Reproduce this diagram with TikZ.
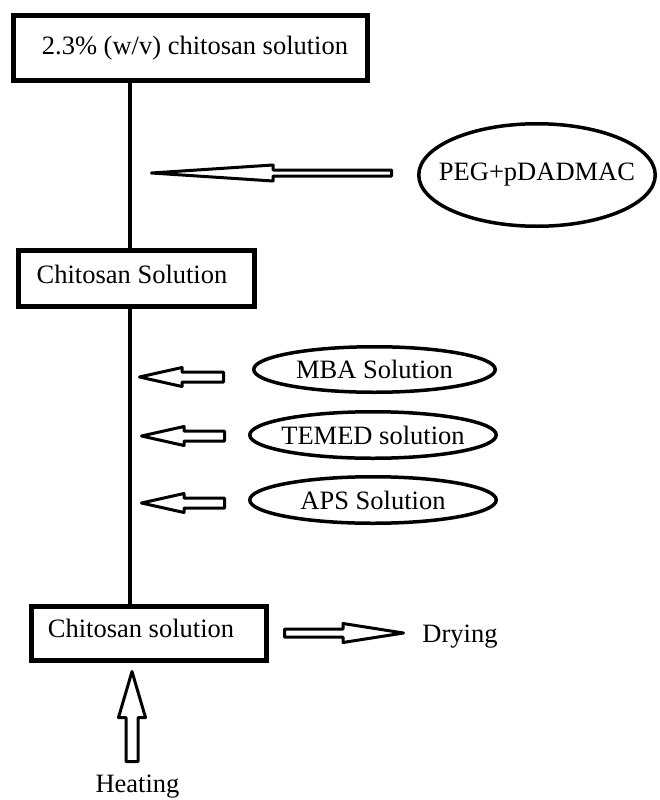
\documentclass[tikz,border=0pt]{standalone}
\usepackage{fontspec}
\setmainfont{Liberation Serif}
\usetikzlibrary{shapes.geometric,calc}
\tikzset{
  box/.style={draw, line width=5pt, inner sep=0pt},
  lbl/.style={anchor=base, inner sep=0pt, font=\fontsize{26.5}{30}\selectfont},
  oval/.style={draw, ellipse, line width=3.5pt, inner sep=0pt, font=\fontsize{26.5}{30}\selectfont},
  harrow/.style={draw, line width=3pt, fill=white, line join=round},
  vline/.style={line width=4.5pt}
}
\newcommand\hollowH[5]{\draw[harrow] ($(#2)+(0,#4)$) -- ($(#1)+(#3,#4)$) -- ($(#1)+(#3,#5)$) -- (#1) -- ($(#1)+(#3,-#5)$) -- ($(#1)+(#3,-#4)$) -- ($(#2)+(0,-#4)$) -- cycle;}
\newcommand\hollowV[5]{\draw[harrow] ($(#2)+(#4,0)$) -- ($(#1)+(#4,#3)$) -- ($(#1)+(#5,#3)$) -- (#1) -- ($(#1)+(-#5,#3)$) -- ($(#1)+(-#4,#3)$) -- ($(#2)+(-#4,0)$) -- cycle;}
\begin{document}
\begin{tikzpicture}[x=1pt,y=-1pt]
\useasboundingbox[fill=white] (0,0) rectangle (659,800);
% boxes
\node[box, minimum width=354pt, minimum height=65pt] (top) at (190.5,48) {};
\node[lbl] (toptxt) at (195,55) {2.3\% (w/v) chitosan solution};
\node[box, minimum width=236pt, minimum height=56pt] (mid) at (136.5,278.5) {};
\node[lbl] (midtxt) at (132,283) {Chitosan Solution};
\node[box, minimum width=235pt, minimum height=54pt] (bot) at (149,633.5) {};
\node[lbl] (bottxt) at (141,637) {Chitosan solution};
% ellipses
\node[oval, minimum width=236.5pt, minimum height=102.5pt] (peg) at (537,175) {\makebox[0pt]{PEG+pDADMAC}};
\node[oval, minimum width=241.5pt, minimum height=45.5pt] (mba) at (374.5,369.5) {\makebox[0pt]{MBA Solution}};
\node[oval, minimum width=246.5pt, minimum height=46.5pt] (temed) at (373,435) {\makebox[0pt]{TEMED solution}};
\node[oval, minimum width=246.5pt, minimum height=46.5pt] (aps) at (373,500) {\makebox[0pt]{APS Solution}};
% plain labels
\node[lbl] (dry) at (460,642) {Drying};
\node[lbl] (heat) at (137.5,792.5) {Heating};
% main vertical line
\coordinate (vx) at (130,0);
\draw[vline] (top.south -| vx) -- (mid.north -| vx);
\draw[vline] (mid.south -| vx) -- (bot.north -| vx);
% arrow end points
\coordinate (pegtip) at (151.5,173);
\coordinate (pegtail) at (391.5,173);
\coordinate (mbatip) at (139.5,377);
\coordinate (mbatail) at (223.5,377);
\coordinate (temedtip) at (141.5,436);
\coordinate (temedtail) at (224.5,436);
\coordinate (apstip) at (141.5,503);
\coordinate (apstail) at (224.5,503);
\coordinate (drytail) at (284.5,633);
\coordinate (drytip) at (403.5,633);
\coordinate (heattip) at (132,671.5);
\coordinate (heattail) at (132,761.5);
% hollow arrows
\hollowH{pegtip}{pegtail}{121.5}{3}{8}
\hollowH{mbatip}{mbatail}{42.5}{5}{9.5}
\hollowH{temedtip}{temedtail}{42.5}{5}{9.5}
\hollowH{apstip}{apstail}{42.5}{5}{9.5}
\hollowH{drytip}{drytail}{-60.5}{4}{9.5}
\hollowV{heattip}{heattail}{46}{6}{13.5}
\end{tikzpicture}
\end{document}
